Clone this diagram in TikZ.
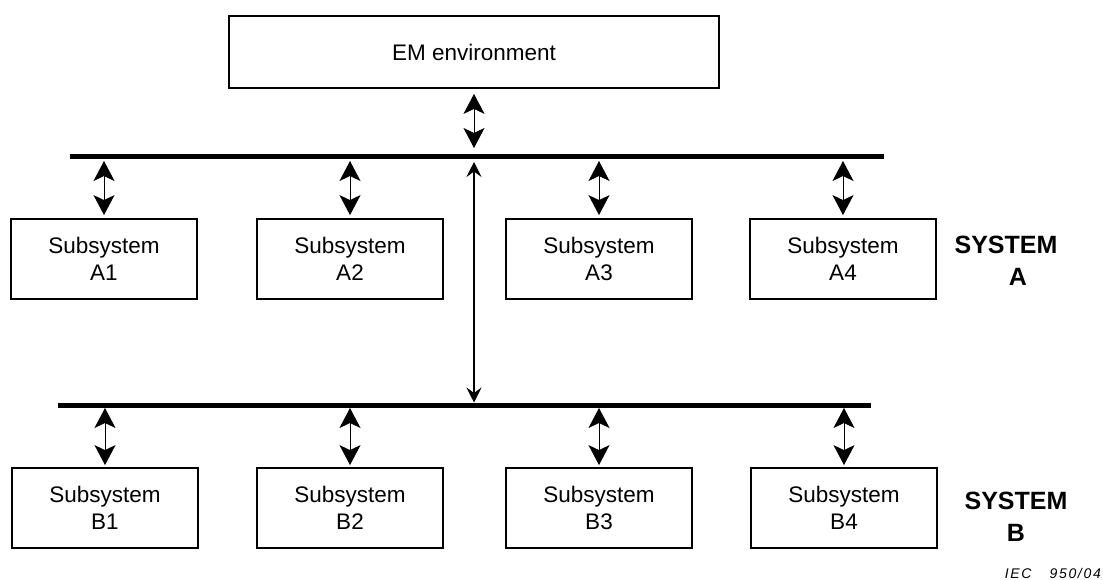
\documentclass[tikz,border=0pt]{standalone}
\usepackage{fontspec}
\setmainfont{Liberation Sans}
\newfontfamily\iecfont[LetterSpace=12]{Liberation Sans}
\usetikzlibrary{arrows.meta}
\tikzset{
  subbox/.style={draw, line width=1.8pt, minimum width=186pt, minimum height=80pt,
    inner sep=0pt, align=center, font=\fontsize{22.5}{27}\selectfont},
  embox/.style={draw, line width=1.8pt, minimum width=490pt, minimum height=72pt,
    inner sep=0pt, font=\fontsize{22.5}{27}\selectfont},
  syslabel/.style={align=center, inner sep=0pt, font=\bfseries\fontsize{25}{32}\selectfont},
  bus/.style={line width=5pt},
  fatarrow/.style={line width=0.9pt,
    {Stealth[length=20pt,width=21pt,inset=5pt]}-{Stealth[length=20pt,width=21pt,inset=5pt]}},
  thinarrow/.style={line width=1.1pt,
    {Stealth[length=15pt,width=15pt,inset=5.5pt]}-{Stealth[length=15pt,width=15pt,inset=5.5pt]}}
}
\begin{document}
\begin{tikzpicture}[x=1pt,y=-1pt]
\useasboundingbox (0,0) rectangle (1103,580);

\node[embox] (EM) at (474,52) {EM environment};

\coordinate (busAL) at (70,157);
\coordinate (busAR) at (884,157);
\coordinate (busAmid) at (474,157);
\coordinate (busBL) at (58,405);
\coordinate (busBR) at (871,405);
\coordinate (busBmid) at (474,405);

\draw[bus] (busAL) -- (busAR);
\draw[bus] (busBL) -- (busBR);

\node[subbox] (A1) at (104,259) {Subsystem\\A1};
\node[subbox] (A2) at (350,259) {Subsystem\\A2};
\node[subbox] (A3) at (599,259) {Subsystem\\A3};
\node[subbox] (A4) at (843,259) {Subsystem\\A4};

\node[subbox] (B1) at (105,508) {Subsystem\\B1};
\node[subbox] (B2) at (350,508) {Subsystem\\B2};
\node[subbox] (B3) at (599,508) {Subsystem\\B3};
\node[subbox] (B4) at (844,508) {Subsystem\\B4};

\node[syslabel] (SA) at (1006,260.5) {SYSTEM\\\hspace*{24pt}A};
\node[syslabel] (SB) at (1016,517) {SYSTEM\\B};

\node[anchor=base east, inner sep=0pt, font=\iecfont\itshape\fontsize{14}{16}\selectfont] (IEC) at (1101,578) {IEC\hspace{18pt}950/04};

% connectors
\draw[fatarrow, shorten <=5pt, shorten >=9pt] (EM.south) -- (busAmid);
\draw[thinarrow, shorten <=5pt, shorten >=2.5pt] (busAmid) -- (busBmid);

\foreach \n in {A1,A2,A3,A4}
  \draw[fatarrow, shorten <=4pt, shorten >=3pt] (\n.north |- busAmid) -- (\n.north);
\foreach \n in {B1,B2,B3,B4}
  \draw[fatarrow, shorten <=3pt, shorten >=2pt] (\n.north |- busBmid) -- (\n.north);

\end{tikzpicture}
\end{document}
